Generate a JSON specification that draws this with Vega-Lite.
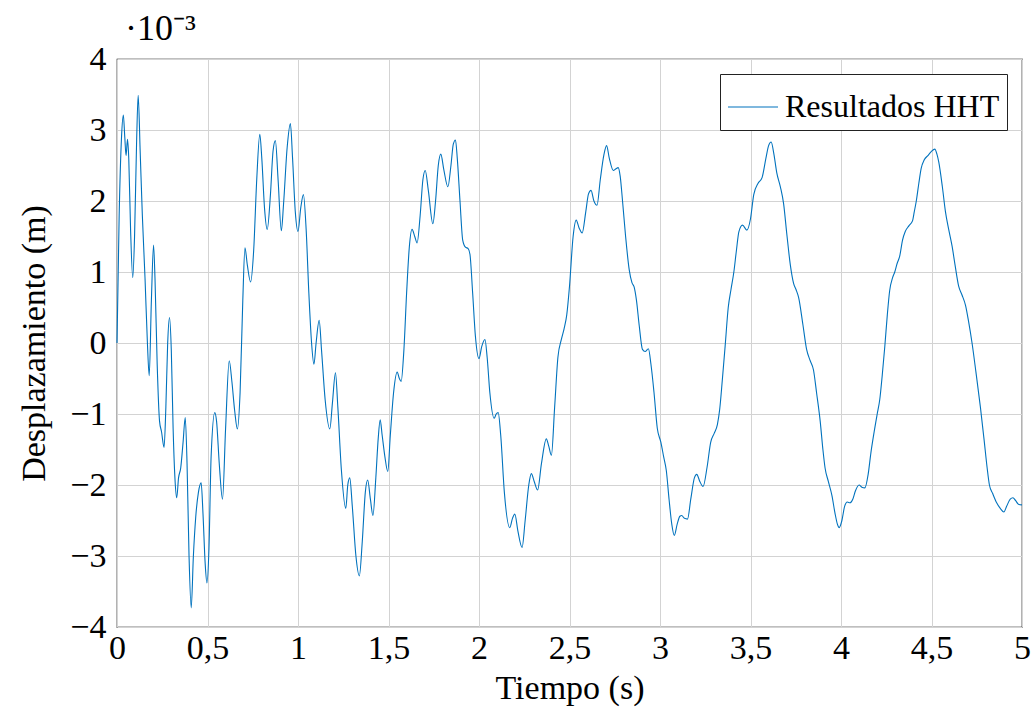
{
  "$schema": "https://vega.github.io/schema/vega-lite/v6.json",
  "width": 905,
  "height": 568,
  "autosize": {"type": "none"},
  "padding": {"left": 117, "top": 59, "right": 11, "bottom": 86},
  "background": "white",
  "config": {
    "font": "Liberation Serif",
    "view": {"stroke": "black", "strokeWidth": 1.2}
  },
  "title": {
    "text": "·10⁻³",
    "anchor": "start",
    "frame": "group",
    "dx": 8,
    "offset": -6,
    "fontSize": 36,
    "fontWeight": "normal",
    "font": "Liberation Serif",
    "color": "black"
  },
  "data": {
    "values": [
      {"tiempo": 0, "desplazamiento_mm": 0},
      {"tiempo": 0.012, "desplazamiento_mm": 1.8},
      {"tiempo": 0.025, "desplazamiento_mm": 2.9},
      {"tiempo": 0.035, "desplazamiento_mm": 3.21},
      {"tiempo": 0.043, "desplazamiento_mm": 2.9},
      {"tiempo": 0.05, "desplazamiento_mm": 2.64},
      {"tiempo": 0.058, "desplazamiento_mm": 2.87},
      {"tiempo": 0.065, "desplazamiento_mm": 2.6},
      {"tiempo": 0.075, "desplazamiento_mm": 1.6},
      {"tiempo": 0.087, "desplazamiento_mm": 0.92},
      {"tiempo": 0.097, "desplazamiento_mm": 1.5},
      {"tiempo": 0.108, "desplazamiento_mm": 2.8},
      {"tiempo": 0.117, "desplazamiento_mm": 3.49},
      {"tiempo": 0.128, "desplazamiento_mm": 2.7},
      {"tiempo": 0.14, "desplazamiento_mm": 1.8},
      {"tiempo": 0.155, "desplazamiento_mm": 0.9},
      {"tiempo": 0.168, "desplazamiento_mm": 0.0},
      {"tiempo": 0.178, "desplazamiento_mm": -0.46},
      {"tiempo": 0.19, "desplazamiento_mm": 0.6},
      {"tiempo": 0.202, "desplazamiento_mm": 1.38},
      {"tiempo": 0.21, "desplazamiento_mm": 0.9},
      {"tiempo": 0.222, "desplazamiento_mm": -0.3},
      {"tiempo": 0.235, "desplazamiento_mm": -1.1},
      {"tiempo": 0.246, "desplazamiento_mm": -1.25},
      {"tiempo": 0.26, "desplazamiento_mm": -1.47},
      {"tiempo": 0.27, "desplazamiento_mm": -0.9},
      {"tiempo": 0.28, "desplazamiento_mm": 0.0},
      {"tiempo": 0.29, "desplazamiento_mm": 0.36},
      {"tiempo": 0.3, "desplazamiento_mm": -0.1},
      {"tiempo": 0.31, "desplazamiento_mm": -1.2},
      {"tiempo": 0.32, "desplazamiento_mm": -1.9},
      {"tiempo": 0.33, "desplazamiento_mm": -2.18},
      {"tiempo": 0.34, "desplazamiento_mm": -1.9},
      {"tiempo": 0.352, "desplazamiento_mm": -1.76},
      {"tiempo": 0.365, "desplazamiento_mm": -1.4},
      {"tiempo": 0.377, "desplazamiento_mm": -1.05},
      {"tiempo": 0.387, "desplazamiento_mm": -1.7},
      {"tiempo": 0.398, "desplazamiento_mm": -3.0},
      {"tiempo": 0.41, "desplazamiento_mm": -3.73},
      {"tiempo": 0.422, "desplazamiento_mm": -3.0},
      {"tiempo": 0.435, "desplazamiento_mm": -2.45},
      {"tiempo": 0.45, "desplazamiento_mm": -2.1},
      {"tiempo": 0.465, "desplazamiento_mm": -1.97},
      {"tiempo": 0.475, "desplazamiento_mm": -2.4},
      {"tiempo": 0.487, "desplazamiento_mm": -3.1},
      {"tiempo": 0.497, "desplazamiento_mm": -3.38},
      {"tiempo": 0.508, "desplazamiento_mm": -2.9},
      {"tiempo": 0.52, "desplazamiento_mm": -1.6},
      {"tiempo": 0.54, "desplazamiento_mm": -0.98},
      {"tiempo": 0.55, "desplazamiento_mm": -1.1},
      {"tiempo": 0.565, "desplazamiento_mm": -1.7},
      {"tiempo": 0.583, "desplazamiento_mm": -2.2},
      {"tiempo": 0.6, "desplazamiento_mm": -1.2},
      {"tiempo": 0.62, "desplazamiento_mm": -0.25},
      {"tiempo": 0.635, "desplazamiento_mm": -0.55},
      {"tiempo": 0.65, "desplazamiento_mm": -0.95},
      {"tiempo": 0.665, "desplazamiento_mm": -1.21},
      {"tiempo": 0.68, "desplazamiento_mm": -0.7},
      {"tiempo": 0.695, "desplazamiento_mm": 0.6},
      {"tiempo": 0.707, "desplazamiento_mm": 1.34},
      {"tiempo": 0.72, "desplazamiento_mm": 1.1},
      {"tiempo": 0.738, "desplazamiento_mm": 0.86},
      {"tiempo": 0.755, "desplazamiento_mm": 1.3},
      {"tiempo": 0.772, "desplazamiento_mm": 2.3},
      {"tiempo": 0.789, "desplazamiento_mm": 2.94},
      {"tiempo": 0.8, "desplazamiento_mm": 2.6},
      {"tiempo": 0.815, "desplazamiento_mm": 1.9},
      {"tiempo": 0.83, "desplazamiento_mm": 1.6},
      {"tiempo": 0.848, "desplazamiento_mm": 2.1},
      {"tiempo": 0.862, "desplazamiento_mm": 2.7},
      {"tiempo": 0.875, "desplazamiento_mm": 2.85},
      {"tiempo": 0.89, "desplazamiento_mm": 2.3},
      {"tiempo": 0.908, "desplazamiento_mm": 1.58},
      {"tiempo": 0.92, "desplazamiento_mm": 1.95},
      {"tiempo": 0.94, "desplazamiento_mm": 2.75},
      {"tiempo": 0.958, "desplazamiento_mm": 3.09},
      {"tiempo": 0.97, "desplazamiento_mm": 2.6},
      {"tiempo": 0.985, "desplazamiento_mm": 1.85},
      {"tiempo": 1.0, "desplazamiento_mm": 1.57},
      {"tiempo": 1.015, "desplazamiento_mm": 1.9},
      {"tiempo": 1.03, "desplazamiento_mm": 2.09},
      {"tiempo": 1.045, "desplazamiento_mm": 1.6},
      {"tiempo": 1.06, "desplazamiento_mm": 0.7},
      {"tiempo": 1.075, "desplazamiento_mm": 0.0},
      {"tiempo": 1.088, "desplazamiento_mm": -0.3},
      {"tiempo": 1.1, "desplazamiento_mm": 0.0},
      {"tiempo": 1.117, "desplazamiento_mm": 0.32},
      {"tiempo": 1.13, "desplazamiento_mm": -0.1},
      {"tiempo": 1.15, "desplazamiento_mm": -0.8},
      {"tiempo": 1.176, "desplazamiento_mm": -1.21},
      {"tiempo": 1.19, "desplazamiento_mm": -0.85},
      {"tiempo": 1.207, "desplazamiento_mm": -0.42},
      {"tiempo": 1.22, "desplazamiento_mm": -0.9},
      {"tiempo": 1.24, "desplazamiento_mm": -1.8},
      {"tiempo": 1.264, "desplazamiento_mm": -2.33},
      {"tiempo": 1.275, "desplazamiento_mm": -2.0},
      {"tiempo": 1.286, "desplazamiento_mm": -1.9},
      {"tiempo": 1.3, "desplazamiento_mm": -2.3},
      {"tiempo": 1.32, "desplazamiento_mm": -3.0},
      {"tiempo": 1.339, "desplazamiento_mm": -3.28},
      {"tiempo": 1.355, "desplazamiento_mm": -2.8},
      {"tiempo": 1.372, "desplazamiento_mm": -2.1},
      {"tiempo": 1.385, "desplazamiento_mm": -1.93},
      {"tiempo": 1.4, "desplazamiento_mm": -2.2},
      {"tiempo": 1.414, "desplazamiento_mm": -2.43},
      {"tiempo": 1.43, "desplazamiento_mm": -1.9},
      {"tiempo": 1.443, "desplazamiento_mm": -1.35},
      {"tiempo": 1.454, "desplazamiento_mm": -1.08},
      {"tiempo": 1.465, "desplazamiento_mm": -1.3},
      {"tiempo": 1.48, "desplazamiento_mm": -1.6},
      {"tiempo": 1.496, "desplazamiento_mm": -1.81},
      {"tiempo": 1.51, "desplazamiento_mm": -1.3},
      {"tiempo": 1.528, "desplazamiento_mm": -0.7},
      {"tiempo": 1.548, "desplazamiento_mm": -0.41},
      {"tiempo": 1.56, "desplazamiento_mm": -0.5},
      {"tiempo": 1.57, "desplazamiento_mm": -0.54},
      {"tiempo": 1.585, "desplazamiento_mm": -0.1},
      {"tiempo": 1.6, "desplazamiento_mm": 0.7},
      {"tiempo": 1.615, "desplazamiento_mm": 1.35},
      {"tiempo": 1.63, "desplazamiento_mm": 1.6},
      {"tiempo": 1.645, "desplazamiento_mm": 1.5},
      {"tiempo": 1.658, "desplazamiento_mm": 1.41},
      {"tiempo": 1.675, "desplazamiento_mm": 1.8},
      {"tiempo": 1.69, "desplazamiento_mm": 2.3},
      {"tiempo": 1.703, "desplazamiento_mm": 2.43},
      {"tiempo": 1.72, "desplazamiento_mm": 2.15},
      {"tiempo": 1.745, "desplazamiento_mm": 1.68},
      {"tiempo": 1.76, "desplazamiento_mm": 2.0},
      {"tiempo": 1.775, "desplazamiento_mm": 2.5},
      {"tiempo": 1.789, "desplazamiento_mm": 2.66},
      {"tiempo": 1.805, "desplazamiento_mm": 2.45},
      {"tiempo": 1.828, "desplazamiento_mm": 2.2},
      {"tiempo": 1.845, "desplazamiento_mm": 2.5},
      {"tiempo": 1.858, "desplazamiento_mm": 2.8},
      {"tiempo": 1.87, "desplazamiento_mm": 2.86},
      {"tiempo": 1.88, "desplazamiento_mm": 2.6},
      {"tiempo": 1.895, "desplazamiento_mm": 2.0},
      {"tiempo": 1.91, "desplazamiento_mm": 1.45},
      {"tiempo": 1.925, "desplazamiento_mm": 1.35},
      {"tiempo": 1.94, "desplazamiento_mm": 1.33},
      {"tiempo": 1.95, "desplazamiento_mm": 1.25},
      {"tiempo": 1.965, "desplazamiento_mm": 0.7},
      {"tiempo": 1.98, "desplazamiento_mm": 0.1},
      {"tiempo": 2.0, "desplazamiento_mm": -0.22},
      {"tiempo": 2.015, "desplazamiento_mm": -0.05},
      {"tiempo": 2.033, "desplazamiento_mm": 0.05},
      {"tiempo": 2.045, "desplazamiento_mm": -0.2},
      {"tiempo": 2.06, "desplazamiento_mm": -0.7},
      {"tiempo": 2.084, "desplazamiento_mm": -1.06},
      {"tiempo": 2.095, "desplazamiento_mm": -1.0},
      {"tiempo": 2.106, "desplazamiento_mm": -0.98},
      {"tiempo": 2.12, "desplazamiento_mm": -1.3},
      {"tiempo": 2.14, "desplazamiento_mm": -2.1},
      {"tiempo": 2.17, "desplazamiento_mm": -2.6},
      {"tiempo": 2.185, "desplazamiento_mm": -2.47},
      {"tiempo": 2.198, "desplazamiento_mm": -2.41},
      {"tiempo": 2.215, "desplazamiento_mm": -2.65},
      {"tiempo": 2.238, "desplazamiento_mm": -2.88},
      {"tiempo": 2.255, "desplazamiento_mm": -2.5},
      {"tiempo": 2.275, "desplazamiento_mm": -2.0},
      {"tiempo": 2.289, "desplazamiento_mm": -1.84},
      {"tiempo": 2.305, "desplazamiento_mm": -1.95},
      {"tiempo": 2.324, "desplazamiento_mm": -2.07},
      {"tiempo": 2.345, "desplazamiento_mm": -1.7},
      {"tiempo": 2.372, "desplazamiento_mm": -1.35},
      {"tiempo": 2.385, "desplazamiento_mm": -1.45},
      {"tiempo": 2.4, "desplazamiento_mm": -1.58},
      {"tiempo": 2.418, "desplazamiento_mm": -0.9},
      {"tiempo": 2.436, "desplazamiento_mm": -0.2},
      {"tiempo": 2.455, "desplazamiento_mm": 0.05},
      {"tiempo": 2.47, "desplazamiento_mm": 0.2},
      {"tiempo": 2.485, "desplazamiento_mm": 0.4},
      {"tiempo": 2.5, "desplazamiento_mm": 0.8},
      {"tiempo": 2.52, "desplazamiento_mm": 1.5},
      {"tiempo": 2.537, "desplazamiento_mm": 1.73},
      {"tiempo": 2.553, "desplazamiento_mm": 1.62},
      {"tiempo": 2.57, "desplazamiento_mm": 1.55},
      {"tiempo": 2.59, "desplazamiento_mm": 1.85},
      {"tiempo": 2.605, "desplazamiento_mm": 2.1},
      {"tiempo": 2.619, "desplazamiento_mm": 2.15},
      {"tiempo": 2.635, "desplazamiento_mm": 2.0},
      {"tiempo": 2.652, "desplazamiento_mm": 1.94},
      {"tiempo": 2.67, "desplazamiento_mm": 2.3},
      {"tiempo": 2.69, "desplazamiento_mm": 2.65},
      {"tiempo": 2.705, "desplazamiento_mm": 2.78},
      {"tiempo": 2.72, "desplazamiento_mm": 2.6},
      {"tiempo": 2.742, "desplazamiento_mm": 2.43},
      {"tiempo": 2.755, "desplazamiento_mm": 2.45},
      {"tiempo": 2.769, "desplazamiento_mm": 2.47},
      {"tiempo": 2.78, "desplazamiento_mm": 2.35},
      {"tiempo": 2.793, "desplazamiento_mm": 2.0},
      {"tiempo": 2.81, "desplazamiento_mm": 1.5},
      {"tiempo": 2.83, "desplazamiento_mm": 1.03},
      {"tiempo": 2.845, "desplazamiento_mm": 0.85},
      {"tiempo": 2.857, "desplazamiento_mm": 0.79},
      {"tiempo": 2.87, "desplazamiento_mm": 0.6},
      {"tiempo": 2.885, "desplazamiento_mm": 0.25},
      {"tiempo": 2.903, "desplazamiento_mm": -0.09},
      {"tiempo": 2.918, "desplazamiento_mm": -0.12},
      {"tiempo": 2.936, "desplazamiento_mm": -0.08},
      {"tiempo": 2.95, "desplazamiento_mm": -0.3},
      {"tiempo": 2.967, "desplazamiento_mm": -0.7},
      {"tiempo": 2.985, "desplazamiento_mm": -1.2},
      {"tiempo": 3.005, "desplazamiento_mm": -1.4},
      {"tiempo": 3.02, "desplazamiento_mm": -1.6},
      {"tiempo": 3.035, "desplazamiento_mm": -1.8},
      {"tiempo": 3.05, "desplazamiento_mm": -2.2},
      {"tiempo": 3.065, "desplazamiento_mm": -2.55},
      {"tiempo": 3.079, "desplazamiento_mm": -2.71},
      {"tiempo": 3.095, "desplazamiento_mm": -2.55},
      {"tiempo": 3.11, "desplazamiento_mm": -2.44},
      {"tiempo": 3.12, "desplazamiento_mm": -2.43},
      {"tiempo": 3.135, "desplazamiento_mm": -2.47},
      {"tiempo": 3.152, "desplazamiento_mm": -2.48},
      {"tiempo": 3.17, "desplazamiento_mm": -2.2},
      {"tiempo": 3.19, "desplazamiento_mm": -1.9},
      {"tiempo": 3.203, "desplazamiento_mm": -1.85},
      {"tiempo": 3.22, "desplazamiento_mm": -1.95},
      {"tiempo": 3.238, "desplazamiento_mm": -2.02},
      {"tiempo": 3.26, "desplazamiento_mm": -1.75},
      {"tiempo": 3.28, "desplazamiento_mm": -1.4},
      {"tiempo": 3.3, "desplazamiento_mm": -1.27},
      {"tiempo": 3.317, "desplazamiento_mm": -1.15},
      {"tiempo": 3.33, "desplazamiento_mm": -0.93},
      {"tiempo": 3.345, "desplazamiento_mm": -0.5},
      {"tiempo": 3.36, "desplazamiento_mm": -0.04},
      {"tiempo": 3.377, "desplazamiento_mm": 0.5},
      {"tiempo": 3.392, "desplazamiento_mm": 0.75},
      {"tiempo": 3.408, "desplazamiento_mm": 1.0},
      {"tiempo": 3.422, "desplazamiento_mm": 1.3},
      {"tiempo": 3.436, "desplazamiento_mm": 1.57},
      {"tiempo": 3.456, "desplazamiento_mm": 1.66},
      {"tiempo": 3.48, "desplazamiento_mm": 1.59},
      {"tiempo": 3.5, "desplazamiento_mm": 1.75},
      {"tiempo": 3.518, "desplazamiento_mm": 2.09},
      {"tiempo": 3.542, "desplazamiento_mm": 2.25},
      {"tiempo": 3.564, "desplazamiento_mm": 2.33},
      {"tiempo": 3.585, "desplazamiento_mm": 2.6},
      {"tiempo": 3.6, "desplazamiento_mm": 2.78},
      {"tiempo": 3.614, "desplazamiento_mm": 2.83},
      {"tiempo": 3.63, "desplazamiento_mm": 2.65},
      {"tiempo": 3.645, "desplazamiento_mm": 2.4},
      {"tiempo": 3.665, "desplazamiento_mm": 2.2},
      {"tiempo": 3.683, "desplazamiento_mm": 1.96},
      {"tiempo": 3.7, "desplazamiento_mm": 1.55},
      {"tiempo": 3.72, "desplazamiento_mm": 1.1},
      {"tiempo": 3.738, "desplazamiento_mm": 0.84},
      {"tiempo": 3.752, "desplazamiento_mm": 0.75},
      {"tiempo": 3.766, "desplazamiento_mm": 0.64},
      {"tiempo": 3.79, "desplazamiento_mm": 0.25},
      {"tiempo": 3.81, "desplazamiento_mm": -0.09},
      {"tiempo": 3.83, "desplazamiento_mm": -0.25},
      {"tiempo": 3.848, "desplazamiento_mm": -0.38},
      {"tiempo": 3.865, "desplazamiento_mm": -0.7},
      {"tiempo": 3.885, "desplazamiento_mm": -1.1},
      {"tiempo": 3.9, "desplazamiento_mm": -1.5},
      {"tiempo": 3.912, "desplazamiento_mm": -1.76},
      {"tiempo": 3.93, "desplazamiento_mm": -1.95},
      {"tiempo": 3.95, "desplazamiento_mm": -2.15},
      {"tiempo": 3.967, "desplazamiento_mm": -2.4},
      {"tiempo": 3.98, "desplazamiento_mm": -2.55},
      {"tiempo": 3.99, "desplazamiento_mm": -2.6},
      {"tiempo": 4.005, "desplazamiento_mm": -2.5},
      {"tiempo": 4.02, "desplazamiento_mm": -2.3},
      {"tiempo": 4.035, "desplazamiento_mm": -2.24},
      {"tiempo": 4.05, "desplazamiento_mm": -2.25},
      {"tiempo": 4.065, "desplazamiento_mm": -2.2},
      {"tiempo": 4.08, "desplazamiento_mm": -2.08},
      {"tiempo": 4.1, "desplazamiento_mm": -2.0},
      {"tiempo": 4.115, "desplazamiento_mm": -2.03},
      {"tiempo": 4.132, "desplazamiento_mm": -2.04},
      {"tiempo": 4.15, "desplazamiento_mm": -1.85},
      {"tiempo": 4.165, "desplazamiento_mm": -1.55},
      {"tiempo": 4.18, "desplazamiento_mm": -1.3},
      {"tiempo": 4.2, "desplazamiento_mm": -1.0},
      {"tiempo": 4.214, "desplazamiento_mm": -0.8},
      {"tiempo": 4.228, "desplazamiento_mm": -0.45},
      {"tiempo": 4.242, "desplazamiento_mm": -0.05},
      {"tiempo": 4.256, "desplazamiento_mm": 0.4},
      {"tiempo": 4.269, "desplazamiento_mm": 0.74},
      {"tiempo": 4.285, "desplazamiento_mm": 0.92},
      {"tiempo": 4.297, "desplazamiento_mm": 1.0},
      {"tiempo": 4.31, "desplazamiento_mm": 1.12},
      {"tiempo": 4.324, "desplazamiento_mm": 1.22},
      {"tiempo": 4.34, "desplazamiento_mm": 1.45},
      {"tiempo": 4.355, "desplazamiento_mm": 1.57},
      {"tiempo": 4.375, "desplazamiento_mm": 1.65},
      {"tiempo": 4.395, "desplazamiento_mm": 1.72},
      {"tiempo": 4.405, "desplazamiento_mm": 1.85},
      {"tiempo": 4.416, "desplazamiento_mm": 2.0},
      {"tiempo": 4.43, "desplazamiento_mm": 2.25},
      {"tiempo": 4.443, "desplazamiento_mm": 2.46},
      {"tiempo": 4.46, "desplazamiento_mm": 2.58},
      {"tiempo": 4.48, "desplazamiento_mm": 2.64},
      {"tiempo": 4.5, "desplazamiento_mm": 2.7},
      {"tiempo": 4.518, "desplazamiento_mm": 2.73},
      {"tiempo": 4.53, "desplazamiento_mm": 2.66},
      {"tiempo": 4.54, "desplazamiento_mm": 2.55},
      {"tiempo": 4.56, "desplazamiento_mm": 2.2},
      {"tiempo": 4.577, "desplazamiento_mm": 1.85},
      {"tiempo": 4.595, "desplazamiento_mm": 1.6},
      {"tiempo": 4.614, "desplazamiento_mm": 1.36},
      {"tiempo": 4.63, "desplazamiento_mm": 1.1},
      {"tiempo": 4.65, "desplazamiento_mm": 0.8},
      {"tiempo": 4.668, "desplazamiento_mm": 0.68},
      {"tiempo": 4.688, "desplazamiento_mm": 0.53},
      {"tiempo": 4.705, "desplazamiento_mm": 0.3},
      {"tiempo": 4.724, "desplazamiento_mm": 0.0},
      {"tiempo": 4.745, "desplazamiento_mm": -0.4},
      {"tiempo": 4.77, "desplazamiento_mm": -0.9},
      {"tiempo": 4.79, "desplazamiento_mm": -1.35},
      {"tiempo": 4.807, "desplazamiento_mm": -1.75},
      {"tiempo": 4.82, "desplazamiento_mm": -2.0},
      {"tiempo": 4.838, "desplazamiento_mm": -2.12},
      {"tiempo": 4.86, "desplazamiento_mm": -2.25},
      {"tiempo": 4.88, "desplazamiento_mm": -2.33},
      {"tiempo": 4.9, "desplazamiento_mm": -2.38},
      {"tiempo": 4.915, "desplazamiento_mm": -2.3},
      {"tiempo": 4.935, "desplazamiento_mm": -2.2},
      {"tiempo": 4.95, "desplazamiento_mm": -2.18},
      {"tiempo": 4.965, "desplazamiento_mm": -2.22},
      {"tiempo": 4.98, "desplazamiento_mm": -2.27},
      {"tiempo": 5.0, "desplazamiento_mm": -2.28}
    ]
  },
  "mark": {"type": "line", "strokeWidth": 1.1, "interpolate": "monotone"},
  "encoding": {
    "x": {
      "field": "tiempo",
      "type": "quantitative",
      "scale": {"domain": [0, 5], "nice": false, "zero": false},
      "axis": {
        "title": "Tiempo (s)",
        "values": [0, 0.5, 1, 1.5, 2, 2.5, 3, 3.5, 4, 4.5, 5],
        "labelExpr": "replace(format(datum.value, '~g'), '.', ',')",
        "grid": true,
        "gridColor": "#d3d3d3",
        "gridWidth": 1,
        "domain": false,
        "ticks": false,
        "labelFontSize": 34,
        "labelColor": "black",
        "labelPadding": 4,
        "labelFlush": false,
        "labelOverlap": false,
        "titleFontSize": 34,
        "titleFontWeight": "normal",
        "titleColor": "black",
        "titlePadding": 6
      }
    },
    "y": {
      "field": "desplazamiento_mm",
      "type": "quantitative",
      "scale": {"domain": [-4, 4], "nice": false},
      "axis": {
        "title": "Desplazamiento (m)",
        "values": [-4, -3, -2, -1, 0, 1, 2, 3, 4],
        "format": "d",
        "grid": true,
        "gridColor": "#d3d3d3",
        "gridWidth": 1,
        "domain": false,
        "ticks": false,
        "labelFontSize": 34,
        "labelColor": "black",
        "labelPadding": 11,
        "labelFlush": false,
        "labelOverlap": false,
        "titleFontSize": 34,
        "titleFontWeight": "normal",
        "titleColor": "black",
        "titlePadding": 18
      }
    },
    "color": {
      "datum": "Resultados HHT",
      "type": "nominal",
      "scale": {"range": ["#0072BD"]},
      "legend": {
        "title": null,
        "orient": "top-right",
        "offset": 15,
        "fillColor": "white",
        "strokeColor": "#222222",
        "padding": 7,
        "symbolType": "stroke",
        "symbolSize": 2500,
        "symbolStrokeWidth": 1.2,
        "labelFontSize": 32,
        "labelLimit": 0,
        "labelColor": "black",
        "labelFont": "Liberation Serif",
        "labelOffset": 6,
        "cornerRadius": 0
      }
    }
  }
}
